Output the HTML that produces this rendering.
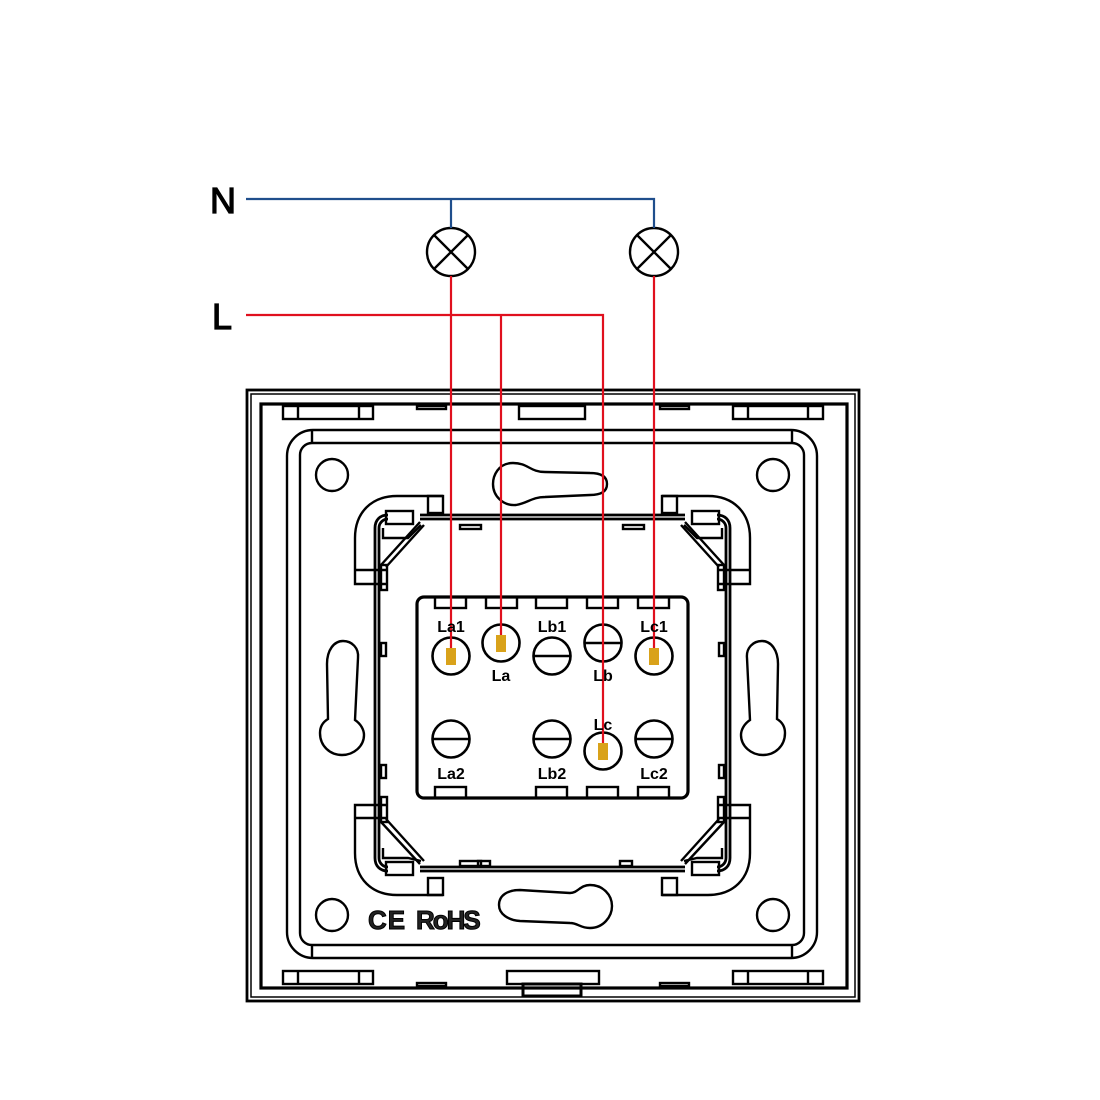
<!DOCTYPE html>
<html><head><meta charset="utf-8"><style>html,body{margin:0;padding:0;background:#fff}svg{display:block}</style></head>
<body>
<svg width="1100" height="1100" viewBox="0 0 1100 1100" xmlns="http://www.w3.org/2000/svg">
<rect width="1100" height="1100" fill="#fff"/>
<g fill="none" stroke="#000" stroke-width="2.4">
<rect x="247" y="390" width="612" height="611" stroke-width="2.8"/>
<rect x="251" y="394" width="604" height="603" stroke-width="1.5"/>
<rect x="261" y="404" width="586" height="584" stroke-width="3.2"/>
<rect x="283" y="406" width="90" height="13"/><line x1="298" y1="406" x2="298" y2="419"/><line x1="359" y1="406" x2="359" y2="419"/>
<rect x="733" y="406" width="90" height="13"/><line x1="748" y1="406" x2="748" y2="419"/><line x1="808" y1="406" x2="808" y2="419"/>
<rect x="417" y="406" width="29" height="3"/>
<rect x="519" y="406" width="66" height="13"/>
<rect x="660" y="406" width="29" height="3"/>
<rect x="283" y="971" width="90" height="13"/><line x1="298" y1="971" x2="298" y2="984"/><line x1="359" y1="971" x2="359" y2="984"/>
<rect x="733" y="971" width="90" height="13"/><line x1="748" y1="971" x2="748" y2="984"/><line x1="808" y1="971" x2="808" y2="984"/>
<rect x="417" y="983" width="29" height="3"/>
<rect x="507" y="971" width="92" height="13"/>
<rect x="523" y="984" width="58" height="12" stroke-width="3"/>
<rect x="660" y="983" width="29" height="3"/>
<rect x="287" y="430" width="530" height="528" rx="26"/>
<rect x="300" y="443" width="504" height="502" rx="12"/>
<line x1="312" y1="430" x2="312" y2="443"/><line x1="792" y1="430" x2="792" y2="443"/>
<line x1="312" y1="945" x2="312" y2="958"/><line x1="792" y1="945" x2="792" y2="958"/>
<circle cx="332" cy="475" r="16"/><circle cx="773" cy="475" r="16"/>
<circle cx="332" cy="915" r="16"/><circle cx="773" cy="915" r="16"/>
<path d="M513,463 C498,463 493,476 493,484 C493,496 503,506 516,505 C528,503 532,497 545,497 L590,495 C600,495 607,492 607,484 C607,476 600,473 590,473 L545,472 C530,472 528,463 513,463 Z"/>
<path d="M590,885 C603,885 612,895 612,906 C612,917 603,928 590,928 C580,928 578,923 570,923 L520,921 C508,920 499,914 499,905 C499,895 508,890 520,890 L570,893 C578,893 580,885 590,885 Z"/>
<path d="M343,641 C352,641 359,648 358,658 L355,720 C361,724 364,730 364,735 C364,746 354,755 342,755 C330,755 320,746 320,733 C320,726 323,722 328,719 L327,664 C327,650 334,641 343,641 Z"/>
<path d="M762,641 C753,641 746,648 747,658 L750,720 C744,724 741,730 741,735 C741,746 751,755 763,755 C775,755 785,746 785,733 C785,726 782,722 777,719 L778,664 C778,650 771,641 762,641 Z"/>
<path d="M443,496 L397,496 C372,496 355,512 355,538 L355,584 L388,584"/>
<line x1="355" y1="570" x2="388" y2="570"/><rect x="428" y="496" width="15" height="17"/>
<path d="M662,496 L708,496 C733,496 750,512 750,538 L750,584 L717,584"/>
<line x1="750" y1="570" x2="717" y2="570"/><rect x="662" y="496" width="15" height="17"/>
<path d="M443,895 L397,895 C372,895 355,879 355,853 L355,805 L388,805"/>
<line x1="355" y1="818" x2="388" y2="818"/><rect x="428" y="878" width="15" height="17"/>
<path d="M662,895 L708,895 C733,895 750,879 750,853 L750,805 L717,805"/>
<line x1="750" y1="818" x2="717" y2="818"/><rect x="662" y="878" width="15" height="17"/>
<path d="M420,515 L685,515 M420,519 L685,519" stroke-width="2.8"/>
<path d="M420,871 L685,871 M420,867 L685,867" stroke-width="2.8"/>
<path d="M388,515 C380,515 375,520 375,528 L375,858 C375,866 380,871 388,871" stroke-width="2.8"/>
<path d="M388,519 C383,519 379,523 379,528 L379,858 C379,863 383,867 388,867" stroke-width="2.8"/>
<path d="M717,515 C725,515 730,520 730,528 L730,858 C730,866 725,871 717,871" stroke-width="2.8"/>
<path d="M717,519 C722,519 726,523 726,528 L726,858 C726,863 722,867 717,867" stroke-width="2.8"/>
<rect x="386" y="511" width="27" height="13"/><rect x="692" y="511" width="27" height="13"/>
<rect x="386" y="862" width="27" height="13"/><rect x="692" y="862" width="27" height="13"/>
<path d="M383,528 L383,538 L408,538 L421,525 M383,848 L383,858 L408,858 L421,861"/>
<path d="M722,528 L722,538 L697,538 L684,525 M722,848 L722,858 L697,858 L684,861"/>
<path d="M420,522 L381,565 M424,525 L386,567"/>
<path d="M685,522 L724,565 M681,525 L719,567"/>
<path d="M420,864 L381,822 M424,861 L386,819"/>
<path d="M685,864 L724,822 M681,861 L719,819"/>
<rect x="381" y="565" width="6" height="25"/><rect x="718" y="565" width="6" height="25"/>
<rect x="381" y="797" width="6" height="25"/><rect x="718" y="797" width="6" height="25"/>
<rect x="381" y="643" width="5" height="13"/><rect x="381" y="765" width="5" height="13"/>
<rect x="719" y="643" width="5" height="13"/><rect x="719" y="765" width="5" height="13"/>
<rect x="460" y="525" width="21" height="4"/><rect x="623" y="525" width="21" height="4"/>
<rect x="460" y="861" width="21" height="5"/><rect x="478" y="861" width="12" height="5"/><rect x="620" y="861" width="12" height="5"/>
<rect x="417" y="597" width="271" height="201" rx="7" stroke-width="3.2"/>
<rect x="435" y="597" width="31" height="11"/><rect x="486" y="597" width="31" height="11"/><rect x="536" y="597" width="31" height="11"/><rect x="587" y="597" width="31" height="11"/><rect x="638" y="597" width="31" height="11"/>
<rect x="435" y="787" width="31" height="11"/><rect x="536" y="787" width="31" height="11"/><rect x="587" y="787" width="31" height="11"/><rect x="638" y="787" width="31" height="11"/>
<g stroke-width="2.6">
<circle cx="451" cy="656" r="18.5"/><circle cx="501" cy="643" r="18.5"/><circle cx="552" cy="656" r="18.5"/><circle cx="603" cy="643" r="18.5"/><circle cx="654" cy="656" r="18.5"/>
<circle cx="451" cy="739" r="18.5"/><circle cx="552" cy="739" r="18.5"/><circle cx="603" cy="751" r="18.5"/><circle cx="654" cy="739" r="18.5"/>
<path d="M533,656 L571,656 M584,643 L622,643 M432,739 L470,739 M533,739 L571,739 M635,739 L673,739"/>
</g>
<circle cx="451" cy="252" r="24"/><circle cx="654" cy="252" r="24"/>
<path d="M434,235 L468,269 M468,235 L434,269 M637,235 L671,269 M671,235 L637,269"/>
</g>
<g fill="none" stroke-width="2.2">
<path d="M246,199 L654,199 L654,228 M451,199 L451,228" stroke="#1f4e8c"/>
<path d="M246,315 L603,315 L603,751 M451,276 L451,656 M501,315 L501,643 M654,276 L654,656" stroke="#e0101e"/>
</g>
<g fill="#d9a21a">
<rect x="446" y="648" width="10" height="17"/><rect x="496" y="635" width="10" height="17"/><rect x="649" y="648" width="10" height="17"/><rect x="598" y="743" width="10" height="17"/>
</g>
<g font-family="Liberation Sans, sans-serif" font-weight="bold" font-size="16" text-anchor="middle" fill="#000">
<text x="451" y="632">La1</text><text x="501" y="681">La</text><text x="552" y="632">Lb1</text><text x="603" y="681">Lb</text><text x="654" y="632">Lc1</text>
<text x="451" y="779">La2</text><text x="552" y="779">Lb2</text><text x="603" y="730">Lc</text><text x="654" y="779">Lc2</text>
</g>
<g font-family="Liberation Sans, sans-serif" font-size="36" fill="#000" stroke="#000" stroke-width="1.2">
<text x="210" y="213">N</text><text x="212" y="329">L</text>
</g>
<g font-family="Liberation Sans, sans-serif" font-weight="bold" font-size="26" fill="#222" stroke="#000" stroke-width="1">
<text x="368" y="929" letter-spacing="1">CE</text><text x="416" y="929" letter-spacing="-2">RoHS</text>
</g>
</svg>
</body></html>
